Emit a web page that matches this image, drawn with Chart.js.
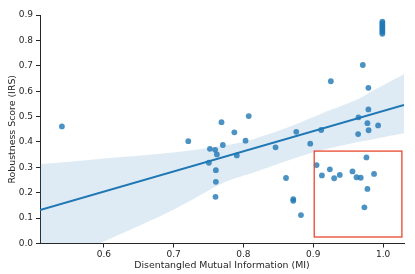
<!DOCTYPE html>
<html>
<head>
<meta charset="utf-8">
<script src="https://cdn.jsdelivr.net/npm/chart.js@4"></script>
<style>
html,body{margin:0;padding:0;background:#fff;}
#wrap{width:415px;height:274px;}
</style>
</head>
<body>
<div id="wrap"><canvas id="c" width="415" height="274"></canvas></div>
<script>
// ---- data ----
const miValues = [0.540,0.721,0.752,0.7595,0.762,0.7505,0.7605,0.7605,0.760,0.7686,
  0.8076,0.787,0.7705,0.7905,0.803,0.846,0.8757,0.9114,0.8957,0.9648,
  0.979,0.9776,0.9929,0.9793,0.9643,0.861,0.8714,0.8714,0.8824,0.9048,
  0.9124,0.9238,0.930,0.938,0.9562,0.962,0.968,0.9762,0.9871,0.9776,
  0.9733,0.9252,0.971,0.979,0.999,0.999,0.999,0.999,0.999,0.999,0.999,0.999];
const irsValues = [0.461,0.403,0.373,0.369,0.351,0.318,0.289,0.243,0.184,0.478,
  0.502,0.438,0.388,0.347,0.405,0.379,0.440,0.447,0.393,0.497,
  0.528,0.474,0.465,0.446,0.431,0.258,0.175,0.168,0.112,0.309,
  0.268,0.292,0.257,0.270,0.284,0.261,0.259,0.339,0.274,0.215,
  0.1425,0.639,0.703,0.613,0.874,0.868,0.861,0.855,0.848,0.840,0.833,0.826];
// regression fit line (endpoints) and confidence band samples
const fitX = [0.5086, 1.03];
const fitY = [0.132, 0.546];
const bandX = [0.5086,0.594,0.699,0.770,0.794,0.818,0.866,0.913,0.961,0.984,1.03];
const bandUpper = [0.312,0.333,0.358,0.385,0.397,0.415,0.460,0.513,0.565,0.600,0.667];
const bandLower = [-0.107,0.000,0.132,0.237,0.262,0.283,0.329,0.368,0.398,0.410,0.434];
const xTicks = [0.6,0.7,0.8,0.9,1.0];
const yTicks = [0,0.1,0.2,0.3,0.4,0.5,0.6,0.7,0.8,0.9];
const boxX = [0.9014, 1.027];
const boxY = [0.0256, 0.364];

const pts = miValues.map((v,i)=>({x:v,y:irsValues[i]}));
const fitPts = fitX.map((v,i)=>({x:v,y:fitY[i]}));
const upPts = bandX.map((v,i)=>({x:v,y:bandUpper[i]}));
const loPts = bandX.map((v,i)=>({x:v,y:bandLower[i]}));

const FONT = "'DejaVu Sans', sans-serif";
const AX = '#262626';

const boxPlugin = {
  id:'box',
  afterDatasetsDraw(chart){
    const {ctx, scales:{x,y}} = chart;
    const l = x.getPixelForValue(boxX[0]), r = x.getPixelForValue(boxX[1]);
    const t = y.getPixelForValue(boxY[1]), b = y.getPixelForValue(boxY[0]);
    ctx.save();
    ctx.strokeStyle = '#e8472f';
    ctx.lineWidth = 1.3;
    ctx.strokeRect(l, t, r-l, b-t);
    ctx.restore();
  }
};

new Chart(document.getElementById('c'), {
  type:'scatter',
  data:{
    datasets:[
      {type:'line', data:upPts, borderWidth:0, pointRadius:0, fill:'+1',
       backgroundColor:'rgba(31,119,180,0.15)', borderColor:'rgba(0,0,0,0)', order:3, tension:0.4},
      {type:'line', data:loPts, borderWidth:0, pointRadius:0, fill:false,
       borderColor:'rgba(0,0,0,0)', order:3, tension:0.4},
      {type:'scatter', data:pts, pointRadius:2.9, pointBorderWidth:0,
       backgroundColor:'rgba(31,119,180,0.8)', order:2},
      {type:'line', data:fitPts, borderColor:'#1f77b4', borderWidth:2, pointRadius:0, fill:false, order:1}
    ]
  },
  options:{
    responsive:false, animation:false, devicePixelRatio:1,
    layout:{padding:{top:15,right:11,left:0,bottom:3}},
    plugins:{legend:{display:false}, tooltip:{enabled:false}},
    scales:{
      x:{type:'linear', min:0.5086, max:1.03,
        afterBuildTicks(s){ s.ticks = xTicks.map(v=>({value:v})); },
        afterFit(s){ s.height = 27.5; },
        grid:{drawOnChartArea:false, drawTicks:true, tickLength:4, color:AX, lineWidth:1},
        border:{display:true, color:AX, width:1},
        ticks:{color:AX, padding:2, font:{family:FONT,size:9}, maxRotation:0,
          callback:v=>Number(v).toFixed(1)},
        title:{display:true, text:'Disentangled Mutual Information (MI)', color:AX,
          font:{family:FONT,size:9.4}, padding:{top:0,bottom:0}}
      },
      y:{type:'linear', min:0, max:0.9,
        afterBuildTicks(s){ s.ticks = yTicks.map(v=>({value:v})); },
        afterFit(s){ s.width = 40; },
        grid:{drawOnChartArea:false, drawTicks:true, tickLength:4, color:AX, lineWidth:1},
        border:{display:true, color:AX, width:1},
        ticks:{color:AX, padding:3, font:{family:FONT,size:9},
          callback:v=>Number(v).toFixed(1)},
        title:{display:true, text:'Robustness Score (IRS)', color:AX,
          font:{family:FONT,size:9.4}, padding:{top:7,bottom:0}}
      }
    }
  },
  plugins:[boxPlugin]
});
</script>
</body>
</html>
